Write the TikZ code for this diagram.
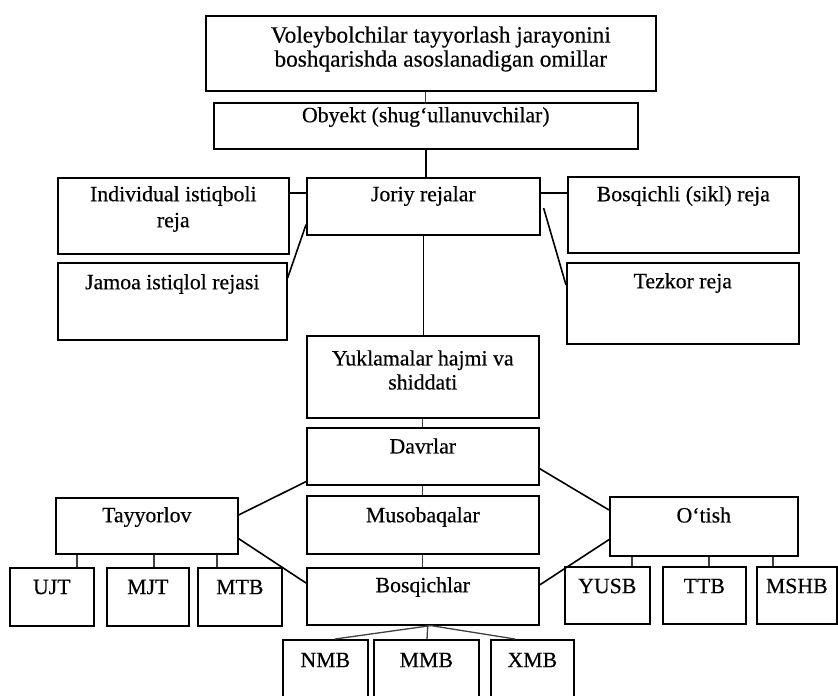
\documentclass[tikz,border=0pt]{standalone}
\usepackage{fontspec}
\setmainfont{Liberation Serif}[FakeBold=0.4]
\begin{document}
\begin{tikzpicture}[x=1pt,y=-1pt,
  box/.style={draw=black, line width=1.6pt, inner sep=0pt, anchor=north west},
  txt/.style={font=\fontsize{21.8}{25}\selectfont, align=center, inner sep=0pt, anchor=center},
  conn/.style={draw=black, line width=1.6pt},
  tick/.style={draw=black!75, line width=1.3pt}]
\useasboundingbox (0,0) rectangle (838,696);
\clip (0,0) rectangle (838,696);
\fill[white] (0,0) rectangle (838,696);
% boxes
\node[box, minimum width=450pt, minimum height=75pt] (t) at (205,15) {};
\node[box, minimum width=424pt, minimum height=46pt] (ob) at (213,102) {};
\node[box, minimum width=231pt, minimum height=76pt] (ind) at (57,177) {};
\node[box, minimum width=233pt, minimum height=57pt] (jr) at (306,177) {};
\node[box, minimum width=231pt, minimum height=76pt] (bs) at (567,176) {};
\node[box, minimum width=229pt, minimum height=77pt] (jm) at (57,262) {};
\node[box, minimum width=232pt, minimum height=81pt] (tz) at (566,262) {};
\node[box, minimum width=232pt, minimum height=82pt] (yk) at (306,335) {};
\node[box, minimum width=232pt, minimum height=57pt] (dv) at (306,427) {};
\node[box, minimum width=232pt, minimum height=58pt] (mu) at (306,495) {};
\node[box, minimum width=232pt, minimum height=57pt] (bq) at (306,567) {};
\node[box, minimum width=182pt, minimum height=56pt] (ty) at (55,497) {};
\node[box, minimum width=188pt, minimum height=59pt] (ot) at (609,496) {};
\node[box, minimum width=84pt, minimum height=58pt] (ujt) at (9,567) {};
\node[box, minimum width=82pt, minimum height=58pt] (mjt) at (106,567) {};
\node[box, minimum width=84pt, minimum height=58pt] (mtb) at (197,567) {};
\node[box, minimum width=85pt, minimum height=57pt] (yusb) at (564,566) {};
\node[box, minimum width=83pt, minimum height=57pt] (ttb) at (662,566) {};
\node[box, minimum width=80pt, minimum height=57pt] (mshb) at (756,566) {};
\node[box, minimum width=85pt, minimum height=70pt] (nmb) at (282,639) {};
\node[box, minimum width=105pt, minimum height=70pt] (mmb) at (373,639) {};
\node[box, minimum width=83pt, minimum height=70pt] (xmb) at (490,639) {};
% texts
\node[txt, font=\fontsize{23.3}{24}\selectfont] (t-l) at ([xshift=10pt,yshift=-34pt]t.north) {Voleybolchilar tayyorlash jarayonini\\boshqarishda asoslanadigan omillar};
\node[txt] (ob-l) at ([yshift=-15pt]ob.north) {Obyekt (shug‘ullanuvchilar)};
\node[txt] (ind-l) at ([yshift=-32pt]ind.north) {Individual istiqboli\\[1pt]reja};
\node[txt] (jr-l) at ([yshift=-19pt]jr.north) {Joriy rejalar};
\node[txt] (bs-l) at ([yshift=-20pt]bs.north) {Bosqichli (sikl) reja};
\node[txt] (jm-l) at ([yshift=-22pt]jm.north) {Jamoa istiqlol rejasi};
\node[txt] (tz-l) at ([yshift=-21pt]tz.north) {Tezkor reja};
\node[txt] (yk-l) at ([yshift=-35pt]yk.north) {Yuklamalar hajmi va\\[-1pt]shiddati};
\node[txt] (dv-l) at ([yshift=-19pt]dv.north) {Davrlar};
\node[txt] (mu-l) at ([yshift=-22pt]mu.north) {Musobaqalar};
\node[txt] (bq-l) at ([yshift=-20pt]bq.north) {Bosqichlar};
\node[txt] (ty-l) at ([yshift=-20pt]ty.north) {Tayyorlov};
\node[txt] (ot-l) at ([yshift=-19pt]ot.north) {O‘tish};
\node[txt] (ujt-l) at ([yshift=-20pt]ujt.north) {UJT};
\node[txt] (mjt-l) at ([yshift=-20pt]mjt.north) {MJT};
\node[txt] (mtb-l) at ([yshift=-20pt]mtb.north) {MTB};
\node[txt] (yusb-l) at ([yshift=-20pt]yusb.north) {YUSB};
\node[txt] (ttb-l) at ([yshift=-20pt]ttb.north) {TTB};
\node[txt] (mshb-l) at ([yshift=-20pt]mshb.north) {MSHB};
\node[txt] (nmb-l) at ([yshift=-21pt]nmb.north) {NMB};
\node[txt] (mmb-l) at ([yshift=-21pt]mmb.north) {MMB};
\node[txt] (xmb-l) at ([yshift=-21pt]xmb.north) {XMB};
% vertical spine
\draw[tick] (t.south -| ob.north) -- (ob.north);
\draw[conn] (ob.south) -- (ob.south |- jr.north);
\draw[conn] (jr.south) -- (jr.south |- yk.north);
\draw[tick] (yk.south) -- (dv.north);
\draw[tick] (dv.south) -- (mu.north);
\draw[tick] (mu.south) -- (bq.north);
% plan connectors
\draw[conn] ([yshift=-16pt]ind.north east) -- ([yshift=-16pt]jr.north west);
\draw[conn] ([yshift=-16pt]jm.north east) -- ([yshift=11pt]jr.south west);
\draw[conn] ([yshift=-16pt]jr.north east) -- ([yshift=-17pt]bs.north west);
\draw[conn] ([xshift=3pt,yshift=-31pt]jr.north east) -- ([yshift=-23pt]tz.north west);
% stage connectors
\draw[conn] ([yshift=-18pt]ty.north east) -- ([yshift=4pt]dv.south west);
\draw[conn] ([yshift=16pt]ty.south east) -- ([yshift=-16pt]bq.north west);
\draw[conn] ([yshift=17pt]dv.south east) -- ([yshift=-14pt]ot.north west);
\draw[conn] ([yshift=-18pt]bq.north east) -- ([yshift=17pt]ot.south west);
% ticks under Tayyorlov
\coordinate (c1) at ([xshift=68pt]ujt.north west);
\coordinate (c2) at ([xshift=48pt]mjt.north west);
\coordinate (c3) at ([xshift=20pt]mtb.north west);
\draw[tick] (c1) -- (c1 |- ty.south);
\draw[tick] (c2) -- (c2 |- ty.south);
\draw[tick] (c3) -- (c3 |- ty.south);
% ticks under O'tish
\coordinate (d1) at ([xshift=68pt]yusb.north west);
\coordinate (d2) at ([xshift=47pt]ttb.north west);
\coordinate (d3) at ([xshift=17pt]mshb.north west);
\draw[tick] (d1) -- (d1 |- ot.south);
\draw[tick] (d2) -- (d2 |- ot.south);
\draw[tick] (d3) -- (d3 |- ot.south);
% Bosqichlar children
\coordinate (b0) at ([xshift=8pt]bq.south);
\draw[tick] (b0) -- ([xshift=53pt]nmb.north west);
\draw[tick] ([xshift=5pt]bq.south) -- ([xshift=54pt]mmb.north west);
\draw[tick] (b0) -- ([xshift=25pt]xmb.north west);
\end{tikzpicture}
\end{document}
